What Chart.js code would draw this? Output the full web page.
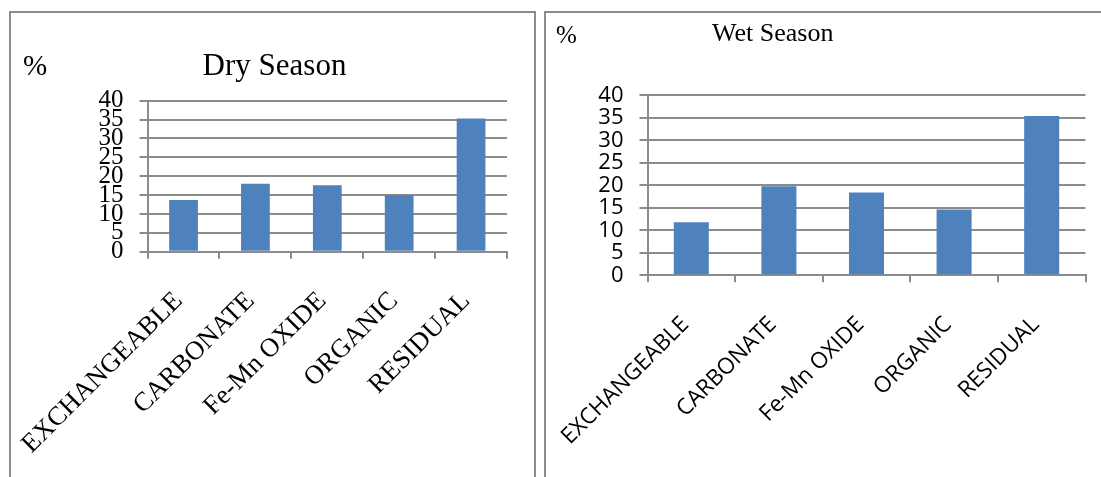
<!DOCTYPE html>
<html>
<head>
<meta charset="utf-8">
<script src="https://cdn.jsdelivr.net/npm/chart.js"></script>
<style>
    body { margin: 0; width: 1101px; height: 477px; overflow: hidden; background: #fff; position: relative; }
    .panel { position: absolute; box-sizing: border-box; border: 2px solid #8c8c8c; border-bottom: none; }
    .box { position: absolute; }
    .txt { position: absolute; font-family: "Liberation Serif", serif; color: #000; white-space: nowrap; }
</style>
</head>
<body>
<div class="panel" style="left:9px; top:11px; width:527px; height:500px;"></div>
<div class="panel" style="left:544px; top:11px; width:600px; height:500px;"></div>

<div class="box" style="left:12px; top:14px;"><canvas id="dry-chart" width="521" height="463"></canvas></div>
<div class="box" style="left:547px; top:14px;"><canvas id="wet-chart" width="554" height="463"></canvas></div>

<div class="txt" style="left:12px; width:525px; top:49px; font-size:31px; line-height:31px; text-align:center;">Dry Season</div>
<div class="txt" style="left:23px; top:51px; font-size:29px; line-height:29px;">%</div>
<div class="txt" style="left:712px; top:20px; font-size:26px; line-height:26px;">Wet Season</div>
<div class="txt" style="left:556px; top:22px; font-size:25px; line-height:25px;">%</div>

<script>
const fractions = ["EXCHANGEABLE", "CARBONATE", "Fe-Mn OXIDE", "ORGANIC", "RESIDUAL"];
const drySeason = [13.7, 18.0, 17.6, 15.0, 35.3];
const wetSeason = [11.8, 19.8, 18.4, 14.6, 35.4];
const yMin = 0;
const yMax = 40;
const yStep = 5;

const barColor = "#4f81bd";
const lineColor = "#8c8c8c";

// builds one panel; fonts and box sizes differ a bit between the two
function makeChart($canvas, values, opts) {
    return new Chart($canvas, {
        type: "bar",
        data: {
            labels: fractions,
            datasets: [
                {
                    data: values,
                    backgroundColor: barColor,
                    barPercentage: 0.4,
                    categoryPercentage: 1,
                },
            ],
        },
        options: {
            responsive: false,
            animation: false,
            layout: { padding: opts.padding },
            plugins: {
                legend: { display: false },
                tooltip: { enabled: false },
                title: { display: false },
            },
            scales: {
                x: {
                    afterFit: (scale) => {
                        scale.height = opts.xHeight;
                        // long rotated labels must not push the plot to the right
                        scale.paddingLeft = 0;
                        scale.paddingRight = 0;
                    },
                    grid: {
                        offset: true,
                        drawOnChartArea: false,
                        drawTicks: true,
                        tickLength: 7,
                        color: lineColor,
                        lineWidth: 2,
                    },
                    border: { display: true, color: lineColor, width: 2 },
                    ticks: {
                        autoSkip: false,
                        minRotation: 45,
                        maxRotation: 45,
                        padding: opts.xPad,
                        labelOffset: opts.xShift,
                        color: "#000",
                        font: opts.xFont,
                    },
                },
                y: {
                    min: yMin,
                    max: yMax,
                    afterFit: (scale) => { scale.width = opts.yWidth; },
                    grid: {
                        color: lineColor,
                        lineWidth: 2,
                        drawTicks: true,
                        tickLength: 8,
                    },
                    border: { display: true, color: lineColor, width: 2 },
                    ticks: {
                        stepSize: yStep,
                        autoSkip: false,
                        padding: 16,
                        color: "#000",
                        font: opts.yFont,
                    },
                },
            },
        },
    });
}

document.addEventListener("DOMContentLoaded", () => {
    const $dryChart = document.querySelector("#dry-chart");
    const $wetChart = document.querySelector("#wet-chart");

    makeChart($dryChart, drySeason, {
        padding: { top: 86.7, right: 26, left: 0, bottom: 0 },
        yWidth: 135.6,
        xHeight: 225.3,
        xPad: 27,
        xShift: -5,
        xFont: { family: "Liberation Serif", size: 26.5 },
        yFont: { family: "Liberation Serif", size: 25 },
    });

    makeChart($wetChart, wetSeason, {
        padding: { top: 81.3, right: 15.5, left: 0, bottom: 0 },
        yWidth: 100.5,
        xHeight: 201.7,
        xPad: 29,
        xShift: -6,
        xFont: { family: "Open Sans", size: 22.5 },
        yFont: { family: "Open Sans", size: 22 },
    });
});
</script>
</body>
</html>
